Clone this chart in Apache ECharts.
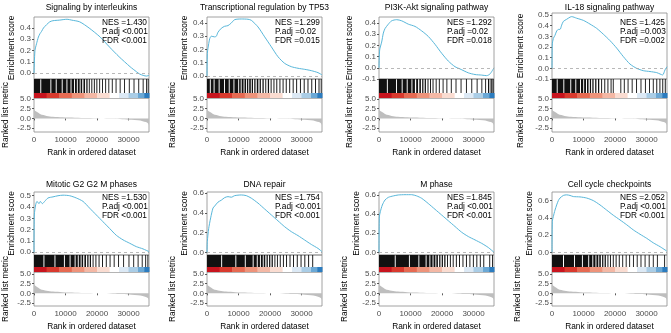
<!DOCTYPE html>
<html><head><meta charset="utf-8">
<script src="https://cdn.jsdelivr.net/npm/echarts@6/dist/echarts.min.js"></script>
<style>html,body{margin:0;padding:0;background:#fff}#c{width:671px;height:333px}</style>
</head><body><div id="c"></div>
<script>
// ---------------- DATA ----------------
const xMax = 36500;
const titles = ['Signaling by interleukins','Transcriptional regulation by TP53','PI3K-Akt signaling pathway','IL-18 signaling pathway',
  'Mitotic G2 G2 M phases','DNA repair','M phase','Cell cycle checkpoints'];
const nesText = ['NES =1.430','NES =1.299','NES =1.292','NES =1.425','NES =1.530','NES =1.754','NES =1.845','NES =2.052'];
const padjText = ['P.adj <0.001','P.adj =0.02','P.adj =0.02','P.adj =0.003','P.adj <0.001','P.adj <0.001','P.adj <0.001','P.adj <0.001'];
const fdrText = ['FDR <0.001','FDR =0.015','FDR =0.018','FDR =0.002','FDR <0.001','FDR <0.001','FDR <0.001','FDR <0.001'];

const esInterleukins = [[0,0],[300,0.2],[800,0.26],[1400,0.32],[1900,0.35],[2400,0.37],[3000,0.40],[4000,0.43],[5000,0.455],[6000,0.465],[8000,0.47],[10500,0.478],[12000,0.47],[14500,0.455],[17500,0.40],[21000,0.32],[24000,0.23],[27000,0.145],[30500,0.056],[32500,0.012],[33600,-0.01],[35700,-0.027],[36500,-0.02]];
const esTP53 = [[0,0],[106,0.17],[317,0.21],[846,0.28],[1375,0.30],[2400,0.295],[2962,0.30],[3491,0.33],[4549,0.36],[5607,0.375],[6665,0.38],[7723,0.40],[8781,0.425],[10897,0.43],[13013,0.428],[14071,0.42],[16187,0.37],[18303,0.295],[20419,0.22],[22535,0.145],[24651,0.095],[26767,0.07],[28883,0.058],[31000,0.05],[33115,0.04],[35231,0.025],[36500,0.008]];
const esPI3K = [[0,0],[212,0.16],[846,0.23],[1375,0.31],[1904,0.35],[2962,0.39],[4020,0.42],[5607,0.43],[7194,0.42],[9310,0.39],[11426,0.37],[13542,0.33],[15658,0.28],[17774,0.21],[19890,0.13],[22006,0.06],[24122,0.01],[25710,-0.01],[28354,-0.045],[30470,-0.06],[32586,-0.065],[34173,-0.07],[35231,-0.055],[36500,0]];
const esIL18 = [[0,0],[106,0.23],[423,0.28],[952,0.31],[1481,0.35],[2010,0.365],[2539,0.365],[3068,0.405],[3597,0.44],[4655,0.46],[5713,0.48],[6242,0.485],[7829,0.47],[9945,0.45],[12061,0.415],[14177,0.375],[16293,0.32],[18409,0.26],[20525,0.19],[22641,0.11],[24757,0.04],[26873,0.0],[28989,-0.022],[31105,-0.03],[33221,-0.04],[34279,-0.053],[35126,-0.062],[35866,-0.015],[36500,0.015]];
const esMitotic = [[0,0],[106,0.33],[529,0.42],[952,0.45],[1587,0.43],[2010,0.45],[2645,0.43],[3386,0.45],[4444,0.48],[6031,0.49],[7618,0.50],[9205,0.505],[11321,0.50],[13437,0.48],[15553,0.45],[17669,0.39],[19785,0.33],[21900,0.27],[24017,0.21],[26133,0.15],[28249,0.11],[30365,0.08],[32481,0.05],[34597,0.03],[36500,0.006]];
const esDNARepair = [[0,0],[106,0.11],[529,0.24],[1164,0.35],[1904,0.45],[2433,0.47],[3491,0.51],[4549,0.53],[5607,0.556],[6665,0.566],[7723,0.56],[8781,0.576],[10897,0.583],[12484,0.576],[14071,0.55],[16187,0.50],[18303,0.44],[20419,0.38],[22535,0.32],[24651,0.26],[26767,0.21],[28883,0.17],[31000,0.125],[33115,0.08],[35231,0.04],[36500,0.007]];
const esMPhase = [[0,0],[106,0.37],[423,0.425],[1058,0.495],[1904,0.547],[2962,0.575],[4549,0.59],[6136,0.6],[8252,0.603],[10368,0.603],[11955,0.59],[13542,0.565],[15658,0.51],[17774,0.45],[19890,0.39],[22006,0.33],[24122,0.27],[26238,0.21],[28354,0.165],[30470,0.13],[32586,0.094],[34702,0.05],[36500,0.0]];
const esCellCycle = [[0,0],[106,0.36],[423,0.415],[952,0.49],[1481,0.55],[2010,0.6],[2539,0.63],[3597,0.66],[4655,0.667],[5713,0.66],[6771,0.647],[8887,0.643],[11003,0.63],[13119,0.6],[15235,0.55],[17351,0.49],[19467,0.43],[21583,0.376],[23699,0.32],[25815,0.26],[27931,0.21],[30047,0.163],[32163,0.11],[34279,0.066],[36400,0.015]];
const esSeries = [esInterleukins, esTP53, esPI3K, esIL18, esMitotic, esDNARepair, esMPhase, esCellCycle];

const hitsInterleukins = [[0,2000],[2300,5200],[5500,6900],[7200,8800],[9100,10300],[10600,11600],[11900,12700],[13000,13600],[13900,14500],[14800,15300],[15700,16200],[16600,17000],[17400,17700],[18200,18500],[19000,19300],[19800,20100],[20700,20950],[21600,21850],[22600,22800],[23600,23800],[24700,24900],[25900,26100],[27200,27400],[28600,28800],[30100,30300],[31600,31800],[33100,33300],[34500,34700],[35600,35800],[36100,36300]];
const hitsTP53 = [[0,900],[1200,2100],[2400,3700],[4000,5400],[5700,6900],[7200,8400],[8700,9900],[10200,10700],[11000,11600],[11900,12400],[12700,13100],[13400,13900],[14200,14600],[15000,15400],[15800,16300],[16700,17100],[17600,18000],[18500,18800],[19300,19700],[20200,20500],[21100,21400],[22000,22300],[23000,23300],[24000,24300],[25000,25300],[26100,26400],[27200,27500],[28300,28600],[29500,29800],[30700,31000],[31900,32200],[33100,33400],[34300,34600],[35400,35700],[36100,36300]];
const hitsPI3K = [[0,2500],[2800,5400],[5700,7200],[7500,8800],[9100,10300],[10600,11400],[11800,12400],[12800,13300],[13700,14100],[14500,14900],[15400,15700],[16200,16500],[17000,17300],[18000,18200],[19000,19200],[20200,20400],[21400,21600],[22800,23000],[24300,24500],[25900,26100],[27600,27800],[29300,29500],[31000,31200],[32500,32700],[33700,33900],[34600,35000],[35400,35800],[36000,36400]];
const hitsIL18 = [[0,1500],[1800,3600],[3900,5800],[6100,7400],[7700,8900],[9200,9900],[10200,10800],[11100,11600],[12000,12400],[12800,13200],[13700,14100],[14600,15000],[15600,15900],[16600,16900],[17600,17900],[18600,18900],[19300,19500],[21700,21900],[22800,23000],[24000,24200],[25300,25500],[26700,26900],[28100,28300],[29500,29700],[30800,31000],[32000,32200],[33100,33400],[34100,34400],[35000,35300],[35800,36100]];
const hitsMitotic = [[0,3000],[3300,6500],[6800,9500],[9800,11300],[11600,12900],[13200,13900],[14200,14800],[15100,15600],[16000,16500],[16900,17300],[17700,18100],[18600,18900],[19500,19800],[20500,20800],[21600,21900],[22800,23050],[24000,24250],[25300,25550],[26700,26950],[28300,28550],[30000,30200],[31500,31700],[32900,33100],[34200,34400],[35300,35500],[36000,36250]];
const hitsDNARepair = [[0,4500],[4800,9000],[9300,12000],[12300,14500],[14800,15800],[16100,16800],[17100,17700],[18000,18500],[18900,19300],[19700,20100],[20500,20900],[21400,21700],[22200,22500],[23100,23400],[24100,24400],[25100,25400],[26200,26500],[27300,27600],[28500,28800],[29700,30000],[30900,31200],[32100,32400],[33400,33700]];
const hitsMPhase = [[0,5000],[5300,9500],[9800,12500],[12800,14800],[15100,16000],[16300,17000],[17300,17900],[18200,18700],[19100,19500],[19900,20300],[20700,21100],[21600,21900],[22500,22800],[23400,23700],[24400,24700],[25400,25700],[26500,26800],[27600,27900],[28700,29000],[29800,30100],[30900,31200],[32000,32300],[33100,33400],[35000,35200],[35900,36100]];
const hitsCellCycle = [[0,3500],[3800,7000],[7300,9500],[9800,11500],[11800,12800],[13100,13800],[14100,14700],[15000,15500],[15900,16300],[16700,17100],[17600,17900],[18400,18700],[19300,19600],[20200,20500],[21200,21500],[22300,22550],[23400,23650],[24500,24750],[25700,25950],[26900,27150],[28100,28350],[29400,29650],[30700,30950],[32000,32250],[33300,33550],[35600,35800]];
const hitSeries = [hitsInterleukins, hitsTP53, hitsPI3K, hitsIL18, hitsMitotic, hitsDNARepair, hitsMPhase, hitsCellCycle];

const colorBands = [[0,4000],[4000,8000],[8000,12000],[12000,16000],[16000,20000],[20000,24000],[24000,27000],[27000,30000],[30000,33000],[33000,35000],[35000,36500]];
const rankedMetric = [[0,2.4],[300,2.0],[850,1.7],[1900,1.15],[3000,0.85],[4000,0.65],[6000,0.45],[9000,0.3],[13000,0.18],[17000,0.08],[21000,0],[25000,-0.1],[28000,-0.2],[31000,-0.35],[33000,-0.5],[34500,-0.7],[35500,-0.95],[36200,-1.3],[36500,-1.7]];

const esTicks = [[0,0.1,0.2,0.3,0.4],[0,0.1,0.2,0.3,0.4],[-0.1,0,0.1,0.2,0.3,0.4],[-0.1,0,0.1,0.2,0.3,0.4,0.5],
  [0,0.1,0.2,0.3,0.4,0.5],[0,0.2,0.4,0.6],[0,0.2,0.4,0.6],[0,0.2,0.4,0.6]];
const rankTicks = [-2.5,0,2.5,5];
const xTicks = [0,10000,20000,30000];

// ---------------- LAYOUT / STYLE ----------------
const bandPalette = ['#C8141E','#D93A2E','#E66A52','#EE937A','#F4B8A5','#FADCD1','#FFFFFF','#DCE9F5','#AACDE6','#6BA8D5','#2C7CBF'];
const boxLeft = [34,207,379,552,34,207,379,552];
const boxW = 115;
const esTop = [17,17,17,13,192,192,192,192];
const esRange = [[-0.053,0.498],[-0.023,0.445],[-0.1,0.454],[-0.1,0.519],[-0.024,0.533],[-0.027,0.613],[-0.028,0.631],[-0.031,0.70]];
const esNameGap = [17,17,25.5,27.5,17,17,17,17];
const rkNameGap = [23.8,30.5,25.5,27.5,23.8,30.5,30.5,30.5];
const rowL = [
  {title:8, esBot:79, hitBot:93, cbBot:98, rkBot:132, rk:[-3.5,5.26], text:23},
  {title:185, esBot:255, hitBot:267, cbBot:272, rkBot:306, rk:[-3.28,5.52], text:198}
];
const FONT = "'Liberation Sans', Arial, sans-serif";
const tickLabel = {fontSize:8, color:'#4d4d4d', fontFamily:FONT};
const nameStyle = {fontSize:8.3, color:'#000', fontFamily:FONT};
const border = {show:true, borderColor:'#8a8a8a', borderWidth:0.8, backgroundColor:'rgba(0,0,0,0)'};

const option = {animation:false, backgroundColor:'#fff', textStyle:{fontFamily:FONT},
  grid:[], xAxis:[], yAxis:[], series:[], graphic:[]};

for (let p = 0; p < 8; p++) {
  const r = rowL[p < 4 ? 0 : 1];
  const L = boxLeft[p];
  const gEs = option.grid.length;
  option.grid.push(Object.assign({left:L, top:esTop[p], width:boxW, height:r.esBot - esTop[p]}, border));
  option.grid.push(Object.assign({left:L, top:r.esBot, width:boxW, height:r.cbBot - r.esBot}, border));
  option.grid.push(Object.assign({left:L, top:r.cbBot, width:boxW, height:r.rkBot - r.cbBot}, border));
  const gBar = gEs + 1, gRk = gEs + 2;
  option.xAxis.push({gridIndex:gEs, type:'value', min:0, max:xMax, show:false});
  option.yAxis.push({gridIndex:gEs, type:'value', min:esRange[p][0], max:esRange[p][1],
    axisLine:{show:false}, splitLine:{show:false},
    axisTick:{show:true, length:2, lineStyle:{color:'#333', width:0.8}, customValues:esTicks[p]},
    axisLabel:{customValues:esTicks[p], formatter:v => (Math.abs(v) < 1e-9 ? 0 : v).toFixed(1), margin:3, ...tickLabel},
    name:'Enrichment score', nameLocation:'middle', nameGap:esNameGap[p], nameTextStyle:nameStyle});
  option.xAxis.push({gridIndex:gBar, type:'value', min:0, max:xMax, show:false});
  option.yAxis.push({gridIndex:gBar, type:'value', min:0, max:1, show:false});
  option.xAxis.push({gridIndex:gRk, type:'value', min:0, max:xMax,
    axisLine:{show:false}, splitLine:{show:false},
    axisTick:{show:true, length:2, lineStyle:{color:'#333', width:0.8}, customValues:xTicks},
    axisLabel:{customValues:xTicks, formatter:v => String(v), margin:4, ...tickLabel},
    name:'Rank in ordered dataset', nameLocation:'middle', nameGap:17, nameTextStyle:nameStyle});
  option.yAxis.push({gridIndex:gRk, type:'value', min:r.rk[0], max:r.rk[1],
    axisLine:{show:false}, splitLine:{show:false},
    axisTick:{show:true, length:2, lineStyle:{color:'#333', width:0.8}, customValues:rankTicks},
    axisLabel:{customValues:rankTicks, formatter:v => v.toFixed(1), margin:3, ...tickLabel},
    name:'Ranked list metric', nameLocation:'middle', nameGap:rkNameGap[p], nameTextStyle:nameStyle});

  option.series.push({type:'line', xAxisIndex:gEs, yAxisIndex:gEs, data:esSeries[p], showSymbol:false, smooth:0.25,
    lineStyle:{color:'#58B7DA', width:1}, z:3,
    markLine:{silent:true, symbol:'none', label:{show:false}, lineStyle:{color:'#a6a6a6', type:[3,3], width:0.8}, data:[{yAxis:0}]}});
  const hitBase = (r.cbBot - r.hitBot) / (r.cbBot - r.esBot);
  option.series.push({type:'custom', xAxisIndex:gBar, yAxisIndex:gBar, data:hitSeries[p],
    renderItem:(params, api) => {
      const a = api.coord([api.value(0), 1]);
      const b = api.coord([api.value(1), hitBase]);
      return {type:'rect', shape:{x:a[0], y:a[1], width:Math.max(b[0]-a[0], 0.9), height:b[1]-a[1]}, style:{fill:'#111'}};
    }});
  option.series.push({type:'custom', xAxisIndex:gBar, yAxisIndex:gBar, data:colorBands,
    renderItem:(params, api) => {
      const a = api.coord([api.value(0), hitBase]);
      const b = api.coord([api.value(1), 0]);
      return {type:'rect', shape:{x:a[0], y:a[1], width:b[0]-a[0]+0.5, height:b[1]-a[1]}, style:{fill:bandPalette[params.dataIndex]}};
    }});
  option.series.push({type:'line', xAxisIndex:gRk, yAxisIndex:gRk, data:rankedMetric, showSymbol:false, smooth:0.3,
    lineStyle:{width:0}, areaStyle:{color:'#BEBEBE', opacity:1, origin:0}});

  option.graphic.push({type:'text', x:L + boxW/2, y:r.title, style:{text:titles[p], fontSize:8.5, fontFamily:FONT, fill:'#000', align:'center', verticalAlign:'middle'}});
  [nesText[p], padjText[p], fdrText[p]].forEach((t, i) => {
    option.graphic.push({type:'text', x:L + 68, y:r.text + 9*i, z:10, style:{text:t, fontSize:8.3, fontFamily:FONT, fill:'#000', align:'left', verticalAlign:'middle'}});
  });
}

const chart = echarts.init(document.getElementById('c'), null, {renderer:'canvas'});
chart.setOption(option);
</script></body></html>
